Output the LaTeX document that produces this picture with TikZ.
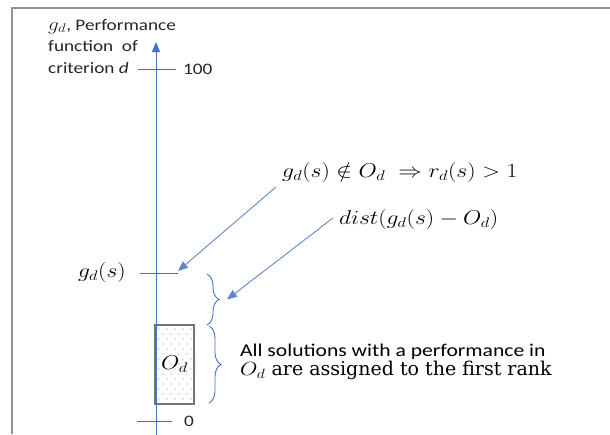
\RequirePackage{fix-cm}
\documentclass[tikz,border=0pt]{standalone}
\usepackage{fontspec}
\setsansfont{Carlito}[FakeStretch=1.2]
\newfontfamily\rankfont{DejaVu Serif}
\usetikzlibrary{arrows.meta,decorations.pathreplacing}
\definecolor{axisblue}{RGB}{68,114,196}
\definecolor{framegray}{RGB}{140,146,158}
\newcommand\wmath[1]{\scalebox{1.18}[1]{$#1$}}
\begin{document}
\begin{tikzpicture}[
    x=1pt, y=-1pt,
    every node/.style={inner sep=0pt},
    sanslbl/.style={font=\sffamily\fontsize{16}{21.5}\selectfont, text=black!85},
    mathlbl/.style={font=\fontsize{20}{24}\selectfont},
    axis/.style={axisblue, line width=1pt},
    pointer/.style={-{Triangle[length=10pt,width=8pt]}, axisblue!85, line width=0.9pt},
    odbox/.style={draw=black!55, line width=1.2pt, minimum width=39pt, minimum height=79pt},
    curly/.style={decorate, decoration={brace, amplitude=12pt}, axisblue, line width=0.9pt},
]
\useasboundingbox (0,0) rectangle (610,434);
\draw[framegray, line width=1.5pt] (12,434) -- (12,8) -- (610,8);

% axis and ticks
\coordinate (base) at (156,436);
\coordinate (tip) at (156,42);
\draw[axis, -{Triangle[length=10pt,width=8pt]}] (base) -- (tip);
\draw[axis] (138,69) -- (176,69);
\draw[axis] (140,273) -- (178,273);
\draw[axis] (137,421) -- (172,421);

\node[sanslbl, anchor=west] (l100) at (183,69) {100};
\node[sanslbl, anchor=west] (l0) at (184,421) {0};
\node[sanslbl, anchor=north west, align=left] (glbl) at (48,19)
    {{\fontsize{18}{21.5}\selectfont\wmath{g_d}}, Performance\\function\ \ of\\criterion \textit{d}};
\node[mathlbl, anchor=east] (gs) at (126,272) {\wmath{g_d(s)}};

% O_d interval
\foreach \r in {0,...,14}{
  \pgfmathsetmacro\off{mod(\r,2)*4}
  \foreach \c in {0,...,4}{
    \fill[axisblue!80] (159+\off+8*\c,329+5*\r) circle (0.7pt);
  }
}
\node[odbox, mathlbl] (od) at (174.5,364.5) {\wmath{O_d}};

\coordinate (gtick) at (178,271);
\draw[curly] (207,274) -- (207,325) coordinate[midway] (gap);
\draw[curly] (209,326) -- (209,403) coordinate[midway] (inrange);

\node[mathlbl, anchor=west] (notin) at (282,172) {\wmath{g_d(s) \notin O_d \;\Rightarrow r_d(s) > 1}};
\node[mathlbl, anchor=west] (dist) at (339,219) {\wmath{dist(g_d(s) - O_d)}};
\node[anchor=west, align=left] (rank) at (240,362)
    {{\sffamily\fontsize{18}{25}\selectfont All solutions with a performance in}\\
     {\rankfont\fontsize{19}{25}\selectfont \wmath{O_d} are assigned to the first rank}};

\coordinate (p1) at (276,187);
\coordinate (p2) at (333,218);
\draw[pointer] (p1) -- (gtick);
\draw[pointer] (p2) -- ([xshift=20pt]gap);
\end{tikzpicture}
\end{document}
